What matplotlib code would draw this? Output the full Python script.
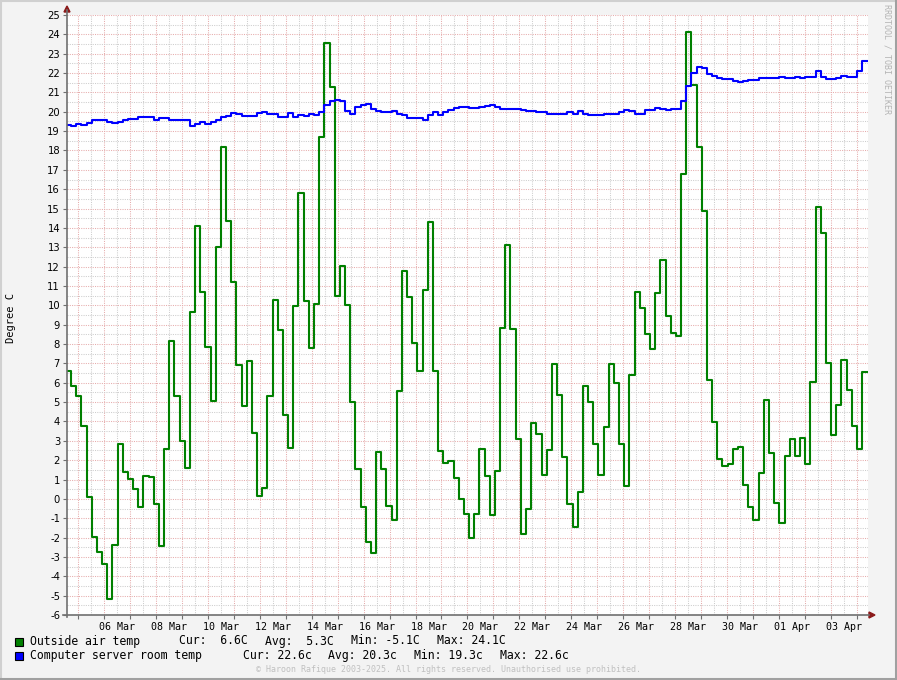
import numpy as np
import pandas as pd
import matplotlib
matplotlib.use('Agg')
import matplotlib.pyplot as plt
from matplotlib.patches import Rectangle, Polygon
from matplotlib.lines import Line2D

# readings, one value per consolidation step (~4.8h)
outside_temp = [
    6.63, 5.84, 5.29, 3.79, 0.12, -1.98, -2.74, -3.34, -5.15, -2.36, 2.84, 1.41, 1.05,
    0.53, -0.40, 1.19, 1.14, -0.24, -2.43, 2.58, 8.18, 5.34, 3.01, 1.57, 9.63, 14.12,
    10.70, 7.87, 5.06, 12.99, 18.16, 14.38, 11.18, 6.94, 4.82, 7.10, 3.38, 0.16, 0.57,
    5.34, 10.28, 8.70, 4.31, 2.65, 9.94, 15.78, 10.20, 7.82, 10.09, 18.72, 23.55,
    21.28, 10.48, 12.02, 10.04, 5.02, 1.56, -0.42, -2.22, -2.80, 2.41, 1.56, -0.37, -1.07,
    5.56, 11.79, 10.43, 8.03, 6.61, 10.78, 14.31, 6.61, 2.49, 1.83, 1.97, 1.09, 0.00,
    -0.78, -2.01, -0.78, 2.58, 1.19, -0.81, 1.45, 8.85, 13.14, 8.80, 3.07, -1.84, -0.52,
    3.94, 3.36, 1.24, 2.50, 6.98, 5.37, 2.14, -0.29, -1.45, 0.33, 5.84, 5.00, 2.81,
    1.22, 3.73, 6.99, 6.00, 2.86, 0.69, 6.42, 10.71, 9.88, 8.53, 7.72, 10.66, 12.33,
    9.46, 8.59, 8.44, 16.76, 24.10, 21.39, 18.16, 14.86, 6.16, 3.99, 2.05, 1.69,
    1.79, 2.60, 2.70, 0.74, -0.40, -1.07, 1.36, 5.13, 2.38, -0.22, -1.27, 2.20, 3.07,
    2.23, 3.17, 1.79, 6.03, 15.10, 13.73, 7.01, 3.32, 4.86, 7.18, 5.60, 3.74, 2.57, 6.53,
]
server_temp = [
    19.32, 19.27, 19.37, 19.32, 19.44, 19.55, 19.60, 19.60, 19.48, 19.43,
    19.48, 19.55, 19.65, 19.65, 19.74, 19.74, 19.74, 19.55, 19.70, 19.70,
    19.60, 19.60, 19.55, 19.55, 19.29, 19.39, 19.48, 19.39, 19.48, 19.55,
    19.75, 19.80, 19.94, 19.86, 19.80, 19.80, 19.80, 19.93, 19.99, 19.91,
    19.91, 19.72, 19.72, 19.94, 19.75, 19.84, 19.80, 19.90, 19.85, 20.00, 20.35,
    20.54, 20.61, 20.54, 20.03, 19.91, 20.24, 20.33, 20.42, 20.15, 20.03, 19.97, 19.97, 20.03,
    19.91, 19.84, 19.70, 19.70, 19.70, 19.60, 19.84, 19.97, 19.84, 19.97, 20.07, 20.21, 20.27,
    20.27, 20.22, 20.22, 20.27, 20.30, 20.33, 20.27, 20.12, 20.12, 20.12, 20.12, 20.08, 20.03,
    20.03, 19.97, 19.97, 19.91, 19.91, 19.91, 19.91, 19.97, 19.91, 20.03, 19.91, 19.84, 19.84,
    19.84, 19.91, 19.86, 19.91, 19.98, 20.08, 20.03, 19.91, 19.91, 20.08,
    20.08, 20.20, 20.15, 20.08, 20.12, 20.12, 20.55, 21.34, 21.99, 22.32,
    22.27, 21.94, 21.87, 21.77, 21.70, 21.70, 21.61, 21.56, 21.61, 21.63,
    21.66, 21.72, 21.72, 21.72, 21.75, 21.80, 21.75, 21.72, 21.80, 21.75,
    21.82, 21.82, 22.13, 21.79, 21.68, 21.68, 21.75, 21.87, 21.82, 21.82,
    22.13, 22.60,
]
series_start = '2025-03-04 12:42'
step_hours = 4.78
view_start = '2025-03-04 13:47'
view_end = '2025-04-04 10:18'

x_tick_labels = ['06 Mar', '08 Mar', '10 Mar', '12 Mar', '14 Mar', '16 Mar', '18 Mar', '20 Mar',
                 '22 Mar', '24 Mar', '26 Mar', '28 Mar', '30 Mar', '01 Apr', '03 Apr']
legend_outside = ['Outside air temp', 'Cur:  6.6C', 'Avg:  5.3C', 'Min: -5.1C', 'Max: 24.1C']
legend_server = ['Computer server room temp', 'Cur: 22.6c', 'Avg: 20.3c', 'Min: 19.3c', 'Max: 22.6c']

W, H = 897, 680
MONO = 'DejaVu Sans Mono'
GREEN = '#008000'
BLUE = '#0000ff'


def px(x, y):
    return (x / W, 1 - y / H)


fig = plt.figure(figsize=(W / 100, H / 100), dpi=100, facecolor='#f3f3f3')
ax = fig.add_axes([67 / W, 1 - 615 / H, 801 / W, 600 / H])
ax.set_facecolor('white')

n = len(outside_temp)
times = pd.to_datetime(series_start) + pd.to_timedelta(np.arange(n + 1) * step_hours, unit='h')
x0, x1 = pd.to_datetime(view_start), pd.to_datetime(view_end)

# grid: red dotted for days / whole degrees, grey dotted for halves
dot = (0, (1, 1.2))
RED_GRID = '#e6acac'
GREY_GRID = '#cdcdcd'
for d in pd.date_range('2025-03-04 12:00', x1, freq='12h'):
    col = RED_GRID if d.hour == 0 else GREY_GRID
    ax.axvline(d, color=col, lw=0.75, ls=dot, zorder=1)
for v in np.arange(-6, 25.01, 0.5):
    col = RED_GRID if v == int(v) else GREY_GRID
    ax.axhline(v, color=col, lw=0.75, ls=dot, zorder=1)

ax.step(times, outside_temp + [outside_temp[-1]], where='post', color=GREEN, lw=1.5, zorder=3)
ax.step(times, server_temp + [server_temp[-1]], where='post', color=BLUE, lw=1.5, zorder=4)

ax.set_xlim(x0, x1)
ax.set_ylim(-6, 25)
for s in ax.spines.values():
    s.set_visible(False)

ax.set_yticks(range(-6, 26))
ax.set_yticklabels([str(v) for v in range(-6, 26)], fontsize=7.2, family='DejaVu Sans')
ax.tick_params(axis='y', length=3, width=0.8, color='#707070', pad=2)

label_pos = [pd.to_datetime(l + ' 2025', format='%d %b %Y') + pd.Timedelta(hours=12) for l in x_tick_labels]
ax.set_xticks(label_pos)
ax.set_xticklabels(x_tick_labels, fontsize=7.2, family=MONO)
ax.tick_params(axis='x', length=0, pad=5)
ax.set_xticks(pd.date_range('2025-03-05', x1, freq='D'), minor=True)
ax.tick_params(axis='x', which='minor', length=3, width=0.8, color='#707070')

# axes with arrows
fig.add_artist(Line2D(*zip(px(67, 617), px(67, 10)), transform=fig.transFigure, color='#707070', lw=1.2))
fig.add_artist(Line2D(*zip(px(63, 615), px(869, 615)), transform=fig.transFigure, color='#707070', lw=1.2))
fig.add_artist(Polygon([px(64, 12), px(70, 12), px(67, 6)], closed=True, transform=fig.transFigure,
                       color='#8b1a1a'))
fig.add_artist(Polygon([px(869, 612), px(869, 618), px(875, 615)], closed=True, transform=fig.transFigure,
                       color='#8b1a1a'))

fig.text(*px(11, 318), 'Degree C', rotation=90, ha='center', va='center', fontsize=7.5, family=MONO)

# legend
legend_x = [30, 179, 265, 351, 437]
legend_x2 = [30, 243, 328, 414, 500]
for row, (items, xs, col) in enumerate([(legend_outside, legend_x, GREEN), (legend_server, legend_x2, BLUE)]):
    y = 641 + row * 14.5
    fig.add_artist(Rectangle(px(15, y + 4.5), 8 / W, 8 / H, transform=fig.transFigure,
                             facecolor=col, edgecolor='black', lw=0.8))
    for t, xx in zip(items, xs):
        fig.text(*px(xx, y), t, ha='left', va='center', fontsize=8.3, family=MONO, color='black')

fig.text(*px(448, 669), '\u00a9 Haroon Rafique 2003-2025. All rights reserved. Unauthorised use prohibited.',
         ha='center', va='center', fontsize=6, family=MONO, color='#c0c0c0')
fig.text(*px(887, 4), 'RRDTOOL / TOBI OETIKER', rotation=270, ha='center', va='top',
         fontsize=6, family=MONO, color='#b4b4b4')

# frame shading
fig.add_artist(Line2D([0, 1], [1 - 1 / H, 1 - 1 / H], transform=fig.transFigure, color='#d0d0d0', lw=1.5))
fig.add_artist(Line2D([0.5 / W, 0.5 / W], [0, 1], transform=fig.transFigure, color='#d0d0d0', lw=1.5))
fig.add_artist(Line2D([0, 1], [1.5 / H, 1.5 / H], transform=fig.transFigure, color='#a0a0a0', lw=2.2))
fig.add_artist(Line2D([1 - 1.5 / W, 1 - 1.5 / W], [0, 1], transform=fig.transFigure, color='#a0a0a0', lw=2.2))

fig.savefig('out.png', dpi=100, facecolor=fig.get_facecolor())
